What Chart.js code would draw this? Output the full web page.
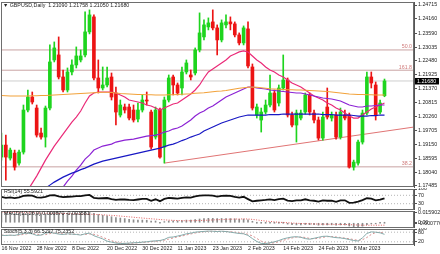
<!DOCTYPE html>
<html><head><meta charset="utf-8">
<script src="https://cdn.jsdelivr.net/npm/chart.js@4.4.1/dist/chart.umd.min.js"></script>
<style>
html,body{margin:0;padding:0;background:#fff;}
body{width:440px;height:254px;position:relative;overflow:hidden;}
canvas{position:absolute;left:0;}
</style></head><body>
<canvas id="cMain" width="440" height="188" style="top:0px"></canvas>
<canvas id="cRsi" width="440" height="22" style="top:188px"></canvas>
<canvas id="cMacd" width="440" height="18" style="top:210px"></canvas>
<canvas id="cSto" width="440" height="26" style="top:228px"></canvas>
<script>
// ---------------- DATA ----------------
const symbolTitle = '\u25BC GBPUSD,Daily  1.21090 1.21758 1.21050 1.21680';
const dateTickLabels = ['16 Nov 2022','28 Nov 2022','8 Dec 2022','20 Dec 2022','30 Dec 2022','11 Jan 2023','23 Jan 2023','2 Feb 2023','14 Feb 2023','24 Feb 2023','8 Mar 2023'];
const dateTickBars = [0,8,16,24,32,40,48,56,64,72,80];
const priceTicks = [1.24715,1.24160,1.23590,1.23035,1.22480,1.21925,1.21370,1.20815,1.20260,1.19705,1.19150,1.18595,1.18040,1.17485];

const open = [1.1864,1.1912,1.1860,1.1880,1.1840,1.1884,1.2052,1.2104,1.2060,1.1960,
1.1944,1.2060,1.2252,1.2272,1.2184,1.2132,1.2204,1.2232,1.2252,1.2272,
1.2364,1.2424,1.2180,1.2140,1.2152,1.2184,1.2120,1.2032,1.2064,1.2064,
1.2052,1.2016,1.2052,1.2092,1.2044,1.1944,1.2052,1.1904,1.2092,1.2184,
1.2152,1.2140,1.2204,1.2192,1.2200,1.2292,1.2344,1.2384,1.2404,1.2380,
1.2332,1.2392,1.2404,1.2396,1.2352,1.2320,1.2376,1.2224,1.2032,1.2012,
1.2044,1.2072,1.2120,1.2080,1.2140,1.2172,1.2032,1.1992,1.2020,1.2044,
1.2112,1.2040,1.2012,1.1940,1.2064,1.2020,1.2032,1.1944,1.2032,1.2032,
1.1824,1.1840,1.1924,1.2040,1.2184,1.2152,1.2044,1.2109];
const high = [1.1960,1.1952,1.1900,1.1892,1.1892,1.2072,1.2132,1.2124,1.2072,1.1980,
1.2068,1.2312,1.2324,1.2344,1.2212,1.2220,1.2252,1.2304,1.2292,1.2444,
1.2452,1.2432,1.2252,1.2224,1.2224,1.2200,1.2144,1.2092,1.2076,1.2076,
1.2072,1.2080,1.2112,1.2124,1.2052,1.2064,1.2060,1.2104,1.2192,1.2192,
1.2160,1.2224,1.2252,1.2212,1.2300,1.2440,1.2412,1.2420,1.2452,1.2392,
1.2412,1.2432,1.2424,1.2404,1.2360,1.2388,1.2404,1.2236,1.2076,1.2060,
1.2092,1.2192,1.2132,1.2152,1.2272,1.2180,1.2044,1.2052,1.2052,1.2120,
1.2120,1.2052,1.2024,1.2044,1.2140,1.2044,1.2044,1.2060,1.2052,1.2040,
1.1852,1.1932,1.2052,1.2204,1.2204,1.2164,1.2092,1.21758];
const low = [1.1852,1.1772,1.1852,1.1812,1.1832,1.1876,1.2044,1.2076,1.1944,1.1936,
1.1904,1.2052,1.2244,1.2176,1.2124,1.2124,1.2192,1.2220,1.2244,1.2264,
1.2356,1.2172,1.2120,1.2132,1.2144,1.2092,1.1992,1.2024,1.2040,1.2012,
1.2004,1.2004,1.2044,1.2072,1.1896,1.1936,1.1860,1.1840,1.2084,1.2112,
1.2112,1.2112,1.2196,1.2172,1.2192,1.2284,1.2332,1.2372,1.2372,1.2272,
1.2324,1.2380,1.2372,1.2344,1.2312,1.2312,1.2220,1.2052,1.2020,1.1964,
1.2036,1.2064,1.2044,1.2068,1.2132,1.2024,1.1984,1.1924,1.2012,1.2036,
1.2032,1.2000,1.1932,1.1932,1.2016,1.2008,1.1936,1.1936,1.2012,1.1820,
1.1812,1.1832,1.1916,1.2032,1.2140,1.2012,1.2036,1.2105];
const close = [1.1912,1.1864,1.1892,1.1824,1.1884,1.2052,1.2104,1.2084,1.1952,1.1944,
1.2060,1.2244,1.2300,1.2184,1.2132,1.2204,1.2232,1.2268,1.2268,1.2364,
1.2432,1.2180,1.2140,1.2152,1.2180,1.2104,1.2044,1.2072,1.2052,1.2020,
1.2012,1.2052,1.2092,1.2088,1.1904,1.2052,1.1864,1.2092,1.2180,1.2152,
1.2120,1.2204,1.2240,1.2184,1.2292,1.2360,1.2392,1.2400,1.2380,1.2332,
1.2400,1.2404,1.2396,1.2352,1.2320,1.2380,1.2228,1.2060,1.2064,1.2044,
1.2072,1.2120,1.2052,1.2140,1.2172,1.2032,1.1992,1.2040,1.2040,1.2112,
1.2044,1.2012,1.1940,1.2024,1.2024,1.2032,1.1944,1.2044,1.2020,1.1824,
1.1844,1.1924,1.2040,1.2184,1.2160,1.2032,1.2080,1.2168];

// moving averages (null = below the visible range)
const maPink = [null,null,null,null,null,null,1.1732,1.1760,1.1788,1.1820,
1.1852,1.1880,1.1908,1.1932,1.1956,1.1980,1.2004,1.2024,1.2048,1.2080,
1.2108,1.2120,1.2124,1.2124,1.2124,1.2124,1.2120,1.2112,1.2104,1.2092,
1.2088,1.2084,1.2080,1.2072,1.2068,1.2060,1.2052,1.2060,1.2068,1.2076,
1.2080,1.2092,1.2104,1.2116,1.2132,1.2152,1.2180,1.2204,1.2216,1.2228,
1.2240,1.2252,1.2268,1.2276,1.2284,1.2288,1.2284,1.2268,1.2252,1.2240,
1.2224,1.2212,1.2204,1.2192,1.2184,1.2172,1.2160,1.2152,1.2144,1.2132,
1.2120,1.2108,1.2100,1.2092,1.2080,1.2072,1.2060,1.2052,1.2040,1.2028,
1.2020,1.2020,1.2032,1.2044,1.2056,1.2064,1.2072,1.2080];
const maPurple = [null,null,null,null,null,null,null,null,null,null,
null,null,null,1.1724,1.1744,1.1768,1.1788,1.1812,1.1832,1.1856,
1.1872,1.1892,1.1900,1.1908,1.1912,1.1916,1.1924,1.1928,1.1932,1.1934,
1.1936,1.1940,1.1944,1.1948,1.1950,1.1952,1.1956,1.1964,1.1968,1.1976,
1.1980,1.1988,1.2000,1.2012,1.2028,1.2040,1.2048,1.2060,1.2068,1.2080,
1.2092,1.2104,1.2112,1.2120,1.2128,1.2136,1.2144,1.2144,1.2140,1.2138,
1.2136,1.2132,1.2130,1.2128,1.2126,1.2124,1.2122,1.2120,1.2120,1.2116,
1.2112,1.2108,1.2104,1.2100,1.2098,1.2096,1.2092,1.2088,1.2080,1.2072,
1.2068,1.2064,1.2064,1.2068,1.2068,1.2070,1.2072,1.2072];
const maBlue = [null,null,null,null,null,null,null,null,null,null,
1.1740,1.1752,1.1764,1.1774,1.1784,1.1792,1.1800,1.1806,1.1814,1.1820,
1.1828,1.1836,1.1842,1.1848,1.1852,1.1856,1.1860,1.1864,1.1868,1.1872,
1.1876,1.1880,1.1884,1.1888,1.1892,1.1896,1.1900,1.1906,1.1912,1.1916,
1.1922,1.1930,1.1936,1.1944,1.1950,1.1956,1.1968,1.1976,1.1984,1.1992,
1.2000,1.2006,1.2012,1.2018,1.2024,1.2028,1.2032,1.2032,1.2032,1.2032,
1.2032,1.2034,1.2034,1.2034,1.2036,1.2036,1.2036,1.2036,1.2036,1.2036,
1.2036,1.2036,1.2036,1.2034,1.2034,1.2034,1.2032,1.2032,1.2032,1.2032,
1.2030,1.2028,1.2028,1.2028,1.2030,1.2030,1.2032,1.2032];
const maOrange = [1.2110,1.2109,1.2108,1.2108,1.2108,1.2108,1.2108,1.2109,1.2109,1.2110,
1.2110,1.2111,1.2112,1.2113,1.2114,1.2115,1.2116,1.2117,1.2118,1.2119,
1.2120,1.2121,1.2122,1.2123,1.2123,1.2122,1.2120,1.2118,1.2117,1.2116,
1.2115,1.2114,1.2114,1.2113,1.2113,1.2112,1.2112,1.2112,1.2113,1.2113,
1.2114,1.2115,1.2116,1.2117,1.2119,1.2120,1.2121,1.2123,1.2125,1.2127,
1.2128,1.2130,1.2133,1.2136,1.2139,1.2141,1.2143,1.2144,1.2143,1.2141,
1.2139,1.2137,1.2136,1.2135,1.2134,1.2133,1.2133,1.2132,1.2132,1.2131,
1.2130,1.2129,1.2128,1.2127,1.2126,1.2124,1.2122,1.2120,1.2118,1.2116,
1.2115,1.2114,1.2114,1.2113,1.2113,1.2112,1.2112,1.2112];

const fibPrices = [1.2292, 1.2211, 1.1825];
const fibNames = ['50.0', '161.8', '38.2'];
const bidPrice = 1.21680;
const trendBars = [37, 93.7];
const trendPrices = [1.1840, 1.1984];

const rsi = [62,58,60,57,60,67,69,68,60,59,63,70,71,65,61,63,64,66,66,70,72,58,55,56,
57,52,48,51,50,48,47,50,53,53,44,51,42,53,58,56,54,58,60,59,65,68,70,70,68,64,67,68,67,
62,59,63,52,41,44,46,48,51,47,52,54,45,42,46,46,51,46,44,40,46,44,45,39,46,46,34,
35,40,47,56,54,46,49,55.59];
const rsiTicks = [0,30,70,100];

const macdMain = [0.0150,0.0146,0.0143,0.0138,0.0135,0.0140,0.0146,0.0148,
0.0140,0.0132,0.0134,0.0146,0.0154,0.0150,0.0142,0.0140,
0.0140,0.0141,0.0140,0.0148,0.0158,0.0140,0.0122,0.0110,
0.0102,0.0090,0.0076,0.0070,0.0062,0.0052,0.0044,0.0040,
0.0040,0.0038,0.0026,0.0026,0.0012,0.0018,0.0026,0.0028,
0.0028,0.0034,0.0040,0.0040,0.0048,0.0056,0.0062,0.0066,
0.0066,0.0062,0.0064,0.0064,0.0062,0.0058,0.0052,0.0054,
0.0042,0.0022,0.0006,-0.0004,-0.0010,-0.0008,-0.0012,-0.0012,
-0.0010,-0.0020,-0.0030,-0.0032,-0.0033,-0.0026,-0.0028,-0.0030,
-0.0036,-0.0032,-0.0032,-0.0031,-0.0036,-0.0032,-0.0031,-0.0048,
-0.0058,-0.0060,-0.0050,-0.0030,-0.0018,-0.0016,-0.0008,0.00087];
const macdSignal = [0.0155,0.0154,0.0153,0.0152,0.0150,0.0149,0.0148,0.0147,0.0146,0.0144,
0.0142,0.0141,0.0140,0.0139,0.0138,0.0136,0.0134,0.0132,0.0130,0.0128,
0.0127,0.0125,0.0122,0.0118,0.0114,0.0110,0.0105,0.0100,0.0094,0.0088,
0.0082,0.0076,0.0070,0.0065,0.0059,0.0054,0.0048,0.0043,0.0039,0.0036,
0.0033,0.0031,0.0030,0.0030,0.0031,0.0033,0.0036,0.0039,0.0042,0.0045,
0.0048,0.0051,0.0053,0.0055,0.0056,0.0057,0.0056,0.0050,0.0042,0.0034,
0.0026,0.0019,0.0013,0.0008,0.0004,0.0000,-0.0004,-0.0008,-0.0011,-0.0014,
-0.0016,-0.0018,-0.0020,-0.0021,-0.0022,-0.0023,-0.0024,-0.0025,-0.0026,-0.0028,
-0.0031,-0.0034,-0.0036,-0.0037,-0.0037,-0.0036,-0.0036,-0.0036];
const macdTicks = [0.015902, 0, -0.000776];

const stochK = [61,59,62,60,66,72,74,70,60,62,74,78,74,68,66,70,68,66,62,70,74,58,48,38,
24,18,12,9,10,12,14,15,18,20,24,26,28,35,48,50,56,62,70,74,80,83,85,87,86,84,86,84,80,
76,72,70,60,40,22,10,9,14,20,28,38,45,50,52,48,40,36,42,48,54,55,50,46,44,40,34,
28,25,45,72,82,80,76,66.53];
const stochD = [62,61,60,60,62,66,71,72,68,64,65,71,75,73,69,68,68,68,65,66,69,67,60,48,
37,27,18,13,10,10,12,14,16,18,21,23,26,30,37,44,51,56,63,69,75,79,83,85,86,86,85,85,83,
80,76,73,67,57,41,24,14,11,14,21,29,37,44,49,50,47,41,39,42,48,52,53,50,47,43,39,
34,29,33,47,66,78,79,75.24];
const stochTicks = [20,80,100];

// ---------------- SETUP ----------------
const FONT = '"Liberation Sans", Arial, sans-serif';
const FS = 5.3;
const X_MIN = -0.1, X_MAX = 93.7;
const GREEN = '#1ed41e', RED = '#ec1414';
const idx = open.map((_, i) => i);
const isUp = idx.map(i => close[i] >= open[i]);
const toPts = arr => arr.map((v, i) => ({x: i, y: v}));

function xAxis(show) {
  return {
    type: 'linear', min: X_MIN, max: X_MAX, offset: false, display: show,
    grid: {display: false, drawTicks: false}, border: {display: false},
    afterBuildTicks: s => { s.ticks = dateTickBars.map(v => ({value: v})); },
    afterFit: s => { if (show) s.height = 9; s.paddingLeft = 0; s.paddingRight = 0; },
    ticks: {autoSkip: false, maxRotation: 0, minRotation: 0, align: 'start', padding: 0, color: '#222',
      font: {family: FONT, size: FS},
      callback: v => { const k = dateTickBars.indexOf(v); return k >= 0 ? dateTickLabels[k] : ''; }}
  };
}
function yAxis(min, max, ticks, fmt) {
  return {
    position: 'right', min, max,
    afterFit: s => { s.width = 26; s.paddingTop = 0; s.paddingBottom = 0; },
    afterBuildTicks: s => { s.ticks = ticks.map(v => ({value: v})); },
    grid: {display: true, drawOnChartArea: false, drawTicks: true, tickLength: 3, color: '#555', lineWidth: 1},
    border: {display: true, color: '#555', width: 1},
    ticks: {autoSkip: false, padding: 1, color: '#222', font: {family: FONT, size: FS}, callback: fmt}
  };
}
function hline(v, color, dash, order) {
  return {type: 'line', data: [{x: X_MIN, y: v}, {x: X_MAX, y: v}], borderColor: color, borderWidth: 1,
    borderDash: dash || [], pointRadius: 0, order: order};
}
function overlay(drawFn) {
  return {id: 'ov', afterDraw(chart) {
    const ctx = chart.ctx, ca = chart.chartArea;
    ctx.save();
    ctx.strokeStyle = '#6e6e6e'; ctx.lineWidth = 1;
    ctx.strokeRect(ca.left + 0.5, ca.top + 0.5, ca.right - ca.left - 1, ca.bottom - ca.top - 1);
    ctx.font = FS + 'px ' + FONT;
    ctx.textBaseline = 'middle';
    drawFn(chart, ctx, ca);
    ctx.restore();
  }};
}
function baseOpts(scales, padTop, padBottom) {
  return {
    responsive: false, animation: false, devicePixelRatio: 1, events: [],
    layout: {padding: {left: 1, right: 0, top: padTop, bottom: padBottom}},
    plugins: {legend: {display: false}, tooltip: {enabled: false}, title: {display: false}},
    scales: scales
  };
}
function label(text) {
  return (chart, ctx, ca) => { ctx.fillStyle = '#222'; ctx.textAlign = 'left'; ctx.fillText(text, ca.left + 3, ca.top + 3); };
}

// ---------------- MAIN PRICE PANEL ----------------
new Chart(document.getElementById('cMain'), {
  type: 'bar',
  data: {datasets: [
    ...fibPrices.map(p => hline(p, '#c9a3a3', null, 5)),
    hline(bidPrice, '#cfcfcf', null, 5),
    {type: 'line', data: trendBars.map((b, k) => ({x: b, y: trendPrices[k]})), borderColor: '#e07474', borderWidth: 1, pointRadius: 0, order: 4},
    {type: 'bar', data: idx.map(i => ({x: i, y: [low[i], high[i]]})), backgroundColor: idx.map(i => isUp[i] ? GREEN : RED),
      barThickness: 1, grouped: false, order: 3},
    {type: 'bar', data: idx.map(i => ({x: i, y: [open[i], close[i]]})), backgroundColor: idx.map(i => isUp[i] ? GREEN : RED),
      barThickness: 3, grouped: false, minBarLength: 1, order: 2},
    {type: 'line', data: toPts(maOrange), borderColor: '#f2a23a', borderWidth: 1.2, pointRadius: 0, order: 1},
    {type: 'line', data: toPts(maBlue), borderColor: '#1818c4', borderWidth: 1.2, pointRadius: 0, order: 1},
    {type: 'line', data: toPts(maPurple), borderColor: '#8c22d4', borderWidth: 1.2, pointRadius: 0, order: 1},
    {type: 'line', data: toPts(maPink), borderColor: '#ea2a78', borderWidth: 1.2, pointRadius: 0, order: 1}
  ]},
  options: baseOpts({x: xAxis(false), y: yAxis(1.17445, 1.24835, priceTicks, v => v.toFixed(5))}, 2, 1),
  plugins: [overlay((chart, ctx, ca) => {
    const ys = chart.scales.y;
    ctx.fillStyle = '#222'; ctx.textAlign = 'left';
    ctx.fillText(symbolTitle, ca.left + 2, ca.top + 3.5);
    ctx.fillStyle = '#d07a7a'; ctx.textAlign = 'right'; ctx.textBaseline = 'alphabetic';
    fibPrices.forEach((p, k) => ctx.fillText(fibNames[k], ca.right - 2, ys.getPixelForValue(p) - 1.5));
    const by = ys.getPixelForValue(bidPrice);
    ctx.fillStyle = '#000'; ctx.fillRect(ca.right + 1, by - 3, 24, 6.5);
    ctx.fillStyle = '#fff'; ctx.textAlign = 'left'; ctx.textBaseline = 'middle';
    ctx.fillText(bidPrice.toFixed(5), ca.right + 3, by + 0.3);
  })]
});

// ---------------- RSI ----------------
new Chart(document.getElementById('cRsi'), {
  type: 'line',
  data: {datasets: [
    hline(70, '#b5b5b5', [1, 2], 3), hline(30, '#b5b5b5', [1, 2], 3),
    {data: toPts(rsi), borderColor: '#111', borderWidth: 1.8, pointRadius: 0, order: 1}
  ]},
  options: baseOpts({x: xAxis(false), y: yAxis(0, 100, rsiTicks, v => String(v))}, 1, 0),
  plugins: [overlay(label('RSI(14) 55.5921'))]
});

// ---------------- MACD ----------------
new Chart(document.getElementById('cMacd'), {
  type: 'bar',
  data: {datasets: [
    {type: 'bar', data: idx.map(i => ({x: i, y: [0, macdMain[i]]})), backgroundColor: '#8c8c8c', barThickness: 1, grouped: false, minBarLength: 1, order: 2},
    {type: 'line', data: toPts(macdSignal), borderColor: '#e05a5a', borderWidth: 1, borderDash: [1, 1.5], pointRadius: 0, order: 1}
  ]},
  options: baseOpts({x: xAxis(false), y: yAxis(-0.0078, 0.0175, macdTicks, v => v === 0 ? '0.00' : v.toFixed(6))}, 1, 0),
  plugins: [overlay(label('MACD(12,26,9) 0.000870 -0.003581'))]
});

// ---------------- STOCHASTIC ----------------
new Chart(document.getElementById('cSto'), {
  type: 'line',
  data: {datasets: [
    hline(80, '#b5b5b5', [1, 2], 3), hline(20, '#b5b5b5', [1, 2], 3),
    {data: toPts(stochD), borderColor: '#d89090', borderWidth: 1, borderDash: [2, 2], pointRadius: 0, order: 2},
    {data: toPts(stochK), borderColor: '#86abab', borderWidth: 1, pointRadius: 0, order: 1}
  ]},
  options: baseOpts({x: xAxis(true), y: yAxis(0, 100, stochTicks, v => String(v))}, 1, 0),
  plugins: [overlay(label('Stoch(5,3,3) 66.5297 75.2352'))]
});
</script>
</body></html>
